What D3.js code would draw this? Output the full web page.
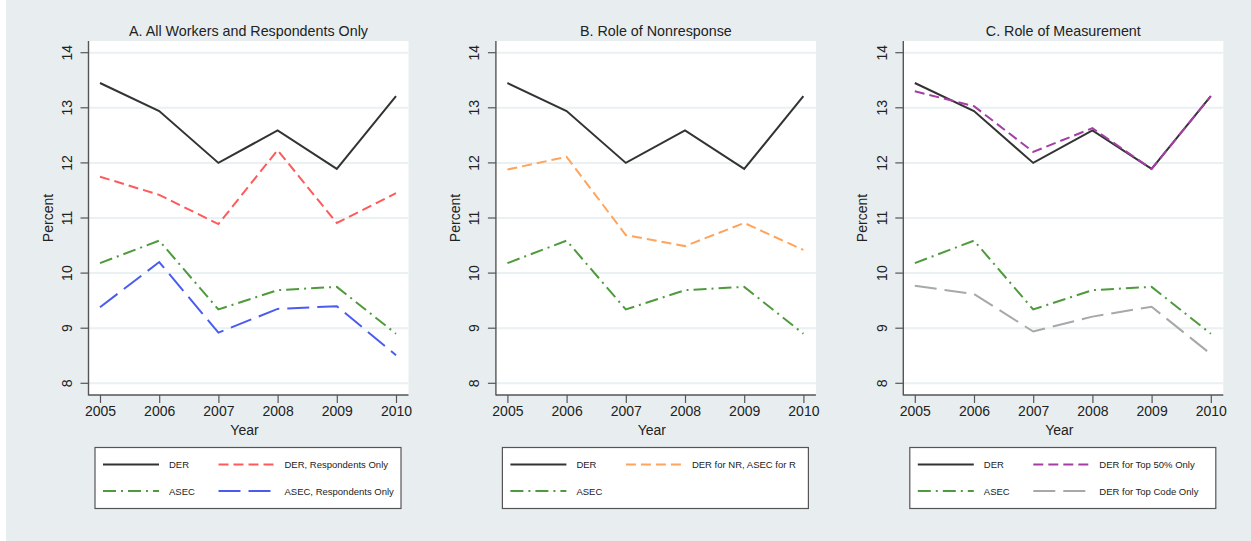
<!DOCTYPE html>
<html>
<head>
<meta charset="utf-8">
<script src="https://cdn.jsdelivr.net/npm/d3@7"></script>
<style>
  body { margin: 0; background: #fff; }
  text { font-family: "Liberation Sans", Arial, sans-serif; fill: #222; }
</style>
</head>
<body>
<script>
// data
const years = [2005, 2006, 2007, 2008, 2009, 2010];
const yTicks = [8, 9, 10, 11, 12, 13, 14];
const panelTitles = ["A. All Workers and Respondents Only", "B. Role of Nonresponse", "C. Role of Measurement"];

const der = [13.45, 12.94, 12.0, 12.59, 11.89, 13.21];
const asec = [10.18, 10.59, 9.34, 9.69, 9.75, 8.9];
const derResp = [11.75, 11.42, 10.89, 12.23, 10.91, 11.45];
const asecResp = [9.38, 10.2, 8.92, 9.35, 9.4, 8.51];
const derNrAsecR = [11.88, 12.11, 10.69, 10.49, 10.91, 10.42];
const derTop50 = [13.3, 13.03, 12.2, 12.63, 11.89, 13.21];
const derTopCode = [9.77, 9.62, 8.94, 9.21, 9.39, 8.53];

const styles = {
  der:   {color: '#333333', dash: null},
  asec:  {color: '#4e9a3c', dash: '13,5,2,5'},
  red:   {color: '#ff5a5a', dash: '10,5'},
  blue:  {color: '#4a5cf0', dash: '22,8'},
  orange:{color: '#ffa45c', dash: '10,5'},
  purple:{color: '#a43ea4', dash: '10,5'},
  gray:  {color: '#a8a8a8', dash: '22,8'}
};

// each panel: series drawn (bottom to top) and legend entries in grid order
const panels = [
  {series: [['ASEC', asec, 'asec'], ['ASEC, Respondents Only', asecResp, 'blue'], ['DER, Respondents Only', derResp, 'red'], ['DER', der, 'der']],
   legend: [['DER', 'der'], ['DER, Respondents Only', 'red'], ['ASEC', 'asec'], ['ASEC, Respondents Only', 'blue']]},
  {series: [['ASEC', asec, 'asec'], ['DER for NR, ASEC for R', derNrAsecR, 'orange'], ['DER', der, 'der']],
   legend: [['DER', 'der'], ['DER for NR, ASEC for R', 'orange'], ['ASEC', 'asec']]},
  {series: [['ASEC', asec, 'asec'], ['DER for Top Code Only', derTopCode, 'gray'], ['DER', der, 'der'], ['DER for Top 50% Only', derTop50, 'purple']],
   legend: [['DER', 'der'], ['DER for Top 50% Only', 'purple'], ['ASEC', 'asec'], ['DER for Top Code Only', 'gray']]}
];

const W = 1251, H = 541;
const svg = d3.select('body').append('svg').attr('width', W).attr('height', H);

svg.append('rect').attr('x', 6).attr('y', 0).attr('width', W - 6).attr('height', H).attr('fill', '#e8eef0');

const panelStep = 407.4;
const plotTop = 41, plotBottom = 395, plotW = 320;

const y = d3.scaleLinear().domain([8, 14]).range([383.3, 52.7]);

function drawPanel(i) {
  const p = panels[i];
  const ax = 88.5 + i * panelStep;
  const g = svg.append('g').attr('transform', 'translate(' + ax + ',0)');
  const x = d3.scaleLinear().domain([2005, 2010]).range([11.5, 307.5]);

  g.append('rect').attr('x', 0).attr('y', plotTop).attr('width', plotW).attr('height', plotBottom - plotTop).attr('fill', '#fff');

  // gridlines
  g.selectAll('.grid').data(yTicks).enter().append('line')
    .attr('x1', 0).attr('x2', plotW)
    .attr('y1', d => y(d)).attr('y2', d => y(d))
    .attr('stroke', '#e9f1f2').attr('stroke-width', 2);

  // y axis
  const yAxis = g.append('g').call(d3.axisLeft(y).tickValues(yTicks).tickSize(8).tickPadding(14).tickFormat(d3.format('d')));
  yAxis.select('.domain').remove();
  yAxis.selectAll('line').attr('stroke', '#555').attr('stroke-width', 1.2);
  yAxis.selectAll('text')
    .attr('font-size', 14).attr('text-anchor', 'middle').attr('dy', null)
    .attr('x', null)
    .attr('transform', d => 'translate(-21.5,' + y(d) + ') rotate(-90)')
    .attr('y', 5);
  yAxis.selectAll('.tick').attr('transform', d => 'translate(0,0)');
  yAxis.selectAll('.tick line').attr('y1', d => y(d)).attr('y2', d => y(d)).attr('x2', -8);

  // x axis
  const xAxis = g.append('g').attr('transform', 'translate(0,' + plotBottom + ')')
    .call(d3.axisBottom(x).tickValues(years).tickSize(8).tickPadding(3).tickFormat(d3.format('d')));
  xAxis.select('.domain').remove();
  xAxis.selectAll('line').attr('stroke', '#555').attr('stroke-width', 1.2);
  xAxis.selectAll('text').attr('font-size', 14);

  g.append('line').attr('x1', 0).attr('x2', 0).attr('y1', plotTop).attr('y2', plotBottom + 0.6)
    .attr('stroke', '#555').attr('stroke-width', 1.4);
  g.append('line').attr('x1', 0).attr('x2', plotW).attr('y1', plotBottom).attr('y2', plotBottom)
    .attr('stroke', '#555').attr('stroke-width', 1.4);

  g.append('text').text('Year').attr('x', plotW / 2 - 4).attr('y', 435).attr('text-anchor', 'middle').attr('font-size', 14);
  g.append('text').text('Percent').attr('transform', 'translate(-36,218) rotate(-90)').attr('text-anchor', 'middle').attr('font-size', 14);
  g.append('text').text(panelTitles[i]).attr('x', plotW / 2).attr('y', 35.5).attr('text-anchor', 'middle').attr('font-size', 14.3);

  const line = d3.line().x((d, j) => x(years[j])).y(d => y(d));
  p.series.forEach(s => {
    const st = styles[s[2]];
    g.append('path').datum(s[1])
      .attr('fill', 'none')
      .attr('stroke', st.color)
      .attr('stroke-width', 2)
      .attr('stroke-dasharray', st.dash)
      .attr('stroke-linejoin', 'miter')
      .attr('d', line);
  });

  // legend
  const lg = g.append('g').attr('transform', 'translate(6.5,447.5)');
  lg.append('rect').attr('width', 306).attr('height', 61).attr('fill', '#fff')
    .attr('stroke', '#555').attr('stroke-width', 1.2);
  p.legend.forEach((item, k) => {
    const col = k % 2, row = Math.floor(k / 2);
    const lx = col === 0 ? 8 : 123.5;
    const ly = row === 0 ? 17 : 43.5;
    const st = styles[item[1]];
    lg.append('line').attr('x1', lx).attr('x2', lx + 56).attr('y1', ly).attr('y2', ly)
      .attr('stroke', st.color).attr('stroke-width', 2).attr('stroke-dasharray', st.dash);
    lg.append('text').text(item[0]).attr('x', lx + 66).attr('y', ly + 3.5).attr('font-size', 9.5);
  });
}

panels.forEach((p, i) => drawPanel(i));
</script>
</body>
</html>
